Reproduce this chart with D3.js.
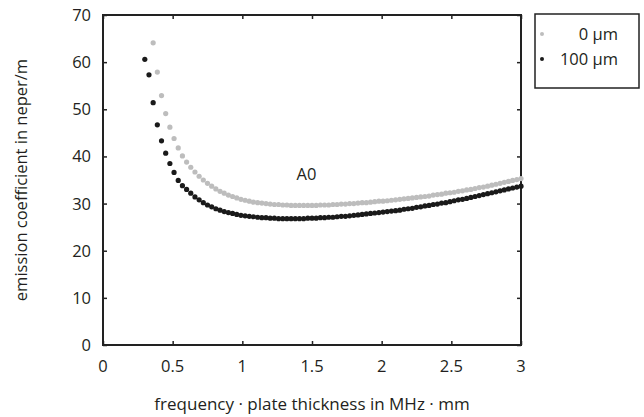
<!DOCTYPE html>
<html>
<head>
<meta charset="utf-8">
<script src="https://cdn.jsdelivr.net/npm/d3@7"></script>
<style>
	body { margin: 0; background: #fff; }
	text { font-family: "Open Sans", "Noto Sans", sans-serif; fill: #231f20; }
</style>
</head>
<body>
<svg id="chart" width="644" height="417"></svg>
<script>
// series: 0 µm (grey) and 100 µm (black)
const x0um = [0.36,0.39,0.42,0.45,0.48,0.51,0.54,0.57,0.60,0.63,0.66,0.69,0.72,0.75,0.78,0.81,0.84,0.87,0.90,0.93,0.96,0.99,1.02,1.05,1.08,1.11,1.14,1.17,1.20,1.23,1.26,1.29,1.32,1.35,1.38,1.41,1.44,1.47,1.50,1.53,1.56,1.59,1.62,1.65,1.68,1.71,1.74,1.77,1.80,1.83,1.86,1.89,1.92,1.95,1.98,2.01,2.04,2.07,2.10,2.13,2.16,2.19,2.22,2.25,2.28,2.31,2.34,2.37,2.40,2.43,2.46,2.49,2.52,2.55,2.58,2.61,2.64,2.67,2.70,2.73,2.76,2.79,2.82,2.85,2.88,2.91,2.94,2.97,3.00];
const y0um = [64.1,57.9,52.9,49.1,46.2,43.8,41.8,40.1,38.8,37.7,36.7,35.8,35.0,34.3,33.7,33.1,32.6,32.2,31.8,31.5,31.2,30.9,30.7,30.5,30.3,30.2,30.1,30.0,29.9,29.8,29.8,29.7,29.7,29.6,29.6,29.6,29.6,29.6,29.6,29.6,29.7,29.7,29.7,29.8,29.8,29.9,29.9,30.0,30.0,30.1,30.2,30.2,30.3,30.4,30.5,30.5,30.6,30.7,30.8,30.9,31.0,31.1,31.2,31.3,31.4,31.5,31.6,31.8,31.9,32.0,32.2,32.3,32.4,32.6,32.7,32.9,33.0,33.2,33.4,33.5,33.7,33.9,34.1,34.3,34.5,34.7,34.9,35.1,35.3];

const x100um = [0.30,0.33,0.36,0.39,0.42,0.45,0.48,0.51,0.54,0.57,0.60,0.63,0.66,0.69,0.72,0.75,0.78,0.81,0.84,0.87,0.90,0.93,0.96,0.99,1.02,1.05,1.08,1.11,1.14,1.17,1.20,1.23,1.26,1.29,1.32,1.35,1.38,1.41,1.44,1.47,1.50,1.53,1.56,1.59,1.62,1.65,1.68,1.71,1.74,1.77,1.80,1.83,1.86,1.89,1.92,1.95,1.98,2.01,2.04,2.07,2.10,2.13,2.16,2.19,2.22,2.25,2.28,2.31,2.34,2.37,2.40,2.43,2.46,2.49,2.52,2.55,2.58,2.61,2.64,2.67,2.70,2.73,2.76,2.79,2.82,2.85,2.88,2.91,2.94,2.97,3.00];
const y100um = [60.6,57.3,51.4,46.7,43.3,40.7,38.5,36.6,34.9,33.8,33.0,32.2,31.4,30.8,30.2,29.7,29.3,28.9,28.6,28.3,28.1,27.9,27.7,27.5,27.4,27.3,27.2,27.1,27.0,27.0,26.9,26.9,26.8,26.8,26.8,26.8,26.8,26.8,26.8,26.9,26.9,26.9,27.0,27.0,27.1,27.1,27.2,27.3,27.3,27.4,27.5,27.6,27.7,27.8,27.9,28.0,28.1,28.2,28.3,28.4,28.5,28.6,28.8,28.9,29.0,29.2,29.3,29.5,29.6,29.8,29.9,30.1,30.2,30.4,30.6,30.8,30.9,31.1,31.3,31.5,31.7,31.9,32.1,32.3,32.5,32.7,32.9,33.1,33.3,33.5,33.7];

const xTicks = [0, 0.5, 1, 1.5, 2, 2.5, 3];
const xTickLabels = ["0", "0.5", "1", "1.5", "2", "2.5", "3"];
const yTicks = [0, 10, 20, 30, 40, 50, 60, 70];
const seriesNames = ["0 µm", "100 µm"];
const seriesColors = ["#bdbdbd", "#1a1a1a"];

const margin = {left: 103, top: 15, right: 123, bottom: 72};
const W = 644, H = 417;
const fs = 16.5;

const svg = d3.select("#chart");

const x = d3.scaleLinear().domain([0, 3]).range([margin.left, W - margin.right]);
const y = d3.scaleLinear().domain([0, 70]).range([H - margin.bottom, margin.top]);

// inward ticks on all four sides
const axes = [
	{ax: d3.axisBottom(x).tickValues(xTicks).tickSize(-4).tickFormat(""), t: `translate(0,${y(0)})`},
	{ax: d3.axisTop(x).tickValues(xTicks).tickSize(-4).tickFormat(""), t: `translate(0,${y(70)})`},
	{ax: d3.axisLeft(y).tickValues(yTicks).tickSize(-4).tickFormat(""), t: `translate(${x(0)},0)`},
	{ax: d3.axisRight(y).tickValues(yTicks).tickSize(-4).tickFormat(""), t: `translate(${x(3)},0)`}
];
axes.forEach(a => {
	const g = svg.append("g").attr("transform", a.t).call(a.ax);
	g.select(".domain").remove();
	g.selectAll("line").attr("stroke", "#222").attr("stroke-width", 1.5);
});

svg.append("rect")
	.attr("x", x(0)).attr("y", y(70))
	.attr("width", x(3) - x(0)).attr("height", y(0) - y(70))
	.attr("fill", "none").attr("stroke", "#222").attr("stroke-width", 2);

// tick labels
svg.append("g").selectAll("text").data(xTicks).join("text")
	.attr("x", d => x(d)).attr("y", y(0) + 27)
	.attr("text-anchor", "middle").attr("font-size", fs)
	.text((d, i) => xTickLabels[i]);

svg.append("g").selectAll("text").data(yTicks).join("text")
	.attr("x", x(0) - 12).attr("y", d => y(d) + 6)
	.attr("text-anchor", "end").attr("font-size", fs)
	.text(d => d);

// axis titles
svg.append("text")
	.attr("x", (x(0) + x(3)) / 2).attr("y", 410)
	.attr("text-anchor", "middle").attr("font-size", 17)
	.text("frequency · plate thickness in MHz · mm");

svg.append("text")
	.attr("transform", `translate(27,${(y(0) + y(70)) / 2}) rotate(-90)`)
	.attr("text-anchor", "middle").attr("font-size", fs)
	.text("emission coefficient in neper/m");

// dots
const series = [
	{xs: x0um, ys: y0um, c: seriesColors[0]},
	{xs: x100um, ys: y100um, c: seriesColors[1]}
];
series.forEach(s => {
	svg.append("g").selectAll("circle").data(s.xs).join("circle")
		.attr("cx", d => x(d))
		.attr("cy", (d, i) => y(s.ys[i]))
		.attr("r", 2.6)
		.attr("fill", s.c);
});

svg.append("text")
	.attr("x", x(1.46)).attr("y", y(36.3) + 6)
	.attr("text-anchor", "middle").attr("font-size", fs)
	.text("A0");

// legend
const lg = svg.append("g");
lg.append("rect")
	.attr("x", 535).attr("y", 14).attr("width", 104).attr("height", 74)
	.attr("fill", "#fff").attr("stroke", "#222").attr("stroke-width", 1.5);
seriesNames.forEach((n, i) => {
	lg.append("circle").attr("cx", 542).attr("cy", 34 + i * 25).attr("r", 2).attr("fill", seriesColors[i]);
	lg.append("text").attr("x", 618).attr("y", 34 + i * 25 + 6)
		.attr("text-anchor", "end").attr("font-size", fs).text(n);
});
</script>
</body>
</html>
